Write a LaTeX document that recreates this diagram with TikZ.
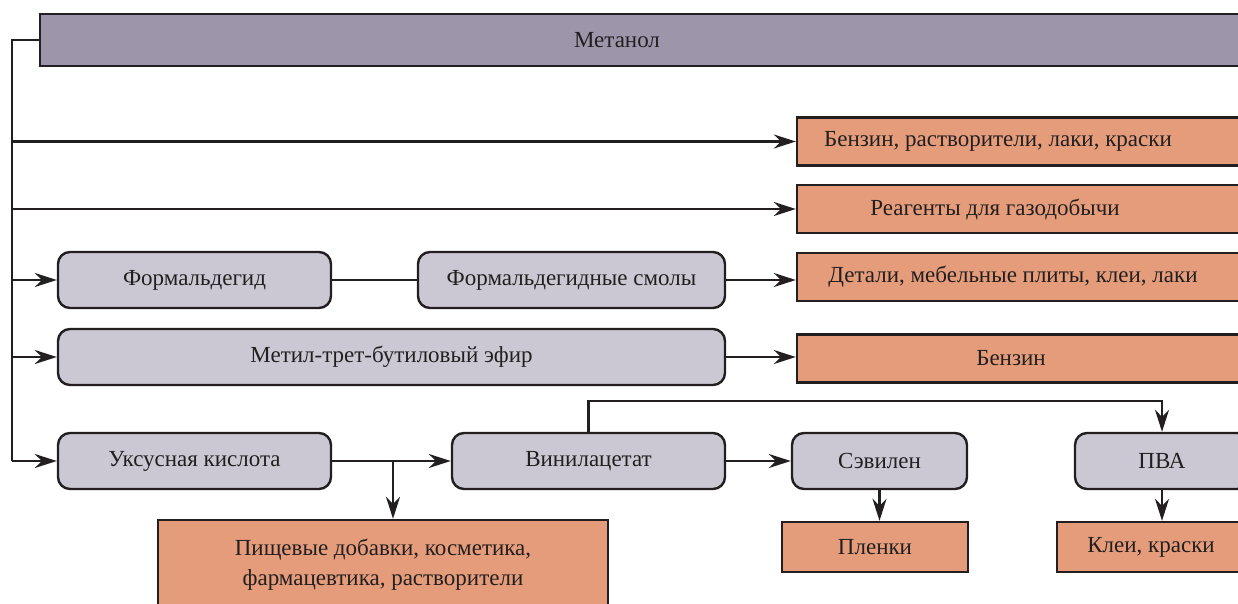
\documentclass[tikz,border=0pt]{standalone}
\usepackage{fontspec}
\setmainfont{Liberation Serif}
\usetikzlibrary{arrows.meta}
\definecolor{metfill}{RGB}{157,149,170}
\definecolor{grayfill}{RGB}{203,200,212}
\definecolor{orfill}{RGB}{228,156,122}
\definecolor{linec}{RGB}{35,31,32}

\begin{document}
\begin{tikzpicture}[x=1pt,y=-1pt,
  every node/.style={font=\fontsize{23}{30}\selectfont, text=linec},
  headbox/.style={draw=linec, line width=2.4pt, fill=metfill, minimum height=52pt, inner sep=0pt},
  chembox/.style={draw=linec, line width=2.4pt, fill=grayfill, rounded corners=12pt, minimum height=56pt, inner sep=0pt},
  appbox/.style={draw=linec, line width=2.4pt, fill=orfill, minimum height=48pt, inner sep=0pt},
  link/.style={draw=linec, line width=2.2pt},
  arr/.style={link, -{Stealth[length=22pt,width=14pt,inset=7pt]}}]
\useasboundingbox (0,0) rectangle (1238,604);
\clip (0,0) rectangle (1238,604);

% source
\node[headbox, minimum width=1210pt, label={[xshift=-28pt]center:Метанол}] (metanol) at (645,40) {};

% direct uses
\node[appbox, minimum width=453pt, label={[xshift=-25.5pt]center:{Бензин, растворители, лаки, краски}}] (use1) at (1023.5,141.5) {};
\node[appbox, minimum width=453pt, label={[xshift=-28.5pt]center:{Реагенты для газодобычи}}] (use2) at (1023.5,209) {};

% intermediate products
\node[chembox, minimum width=273pt] (formald) at (194.5,280) {Формальдегид};
\node[chembox, minimum width=307pt] (smoly) at (571.5,280) {Формальдегидные смолы};
\node[appbox, minimum width=453pt, label={[xshift=-10.5pt]center:{Детали, мебельные плиты, клеи, лаки}}] (use3) at (1023.5,277) {};
\node[chembox, minimum width=667pt] (mtbe) at (391.5,357) {Метил-трет-бутиловый эфир};
\node[appbox, minimum width=453pt, label={[xshift=-12.5pt]center:Бензин}] (use4) at (1023.5,358.5) {};

\node[chembox, minimum width=273pt] (uksus) at (194.5,461) {Уксусная кислота};
\node[chembox, minimum width=273pt] (vinyl) at (588.5,461) {Винилацетат};
\node[chembox, minimum width=175pt] (sevilen) at (879.5,461) {Сэвилен};
\node[chembox, minimum width=174pt] (pva) at (1162,461) {ПВА};

\node[appbox, minimum width=450pt, minimum height=90pt, align=center] (food) at (383,565) {Пищевые добавки, косметика,\\фармацевтика, растворители};
\node[appbox, minimum width=186pt, minimum height=50pt] (films) at (875,547) {Пленки};
\node[appbox, minimum width=188pt, minimum height=50pt] (glue) at (1151,547) {Клеи, краски};

% connectors
\coordinate (trunk) at (12,461);
\coordinate (split) at (393,461);
\draw[link] (metanol.west) -| (trunk);
\draw[arr] (trunk |- use1.west) -- (use1.west);
\draw[arr] (trunk |- use2.west) -- (use2.west);
\draw[arr] (trunk |- formald.west) -- (formald.west);
\draw[arr] (trunk |- mtbe.west) -- (mtbe.west);
\draw[arr] (trunk) -- (uksus.west);
\draw[link] (formald) -- (smoly);
\draw[arr] (smoly.east) -- (smoly.east -| use3.west);
\draw[arr] (mtbe.east) -- (mtbe.east -| use4.west);
\draw[arr] (uksus) -- (vinyl);
\draw[arr] (split) -- (split |- food.north);
\draw[arr] (vinyl) -- (sevilen);
\draw[arr] (sevilen.south) -- (sevilen.south |- films.north);
\draw[arr] (vinyl.north) -- ++(0,-31) -| (pva.north);
\draw[arr] (pva.south) -- (pva.south |- glue.north);
\end{tikzpicture}
\end{document}
